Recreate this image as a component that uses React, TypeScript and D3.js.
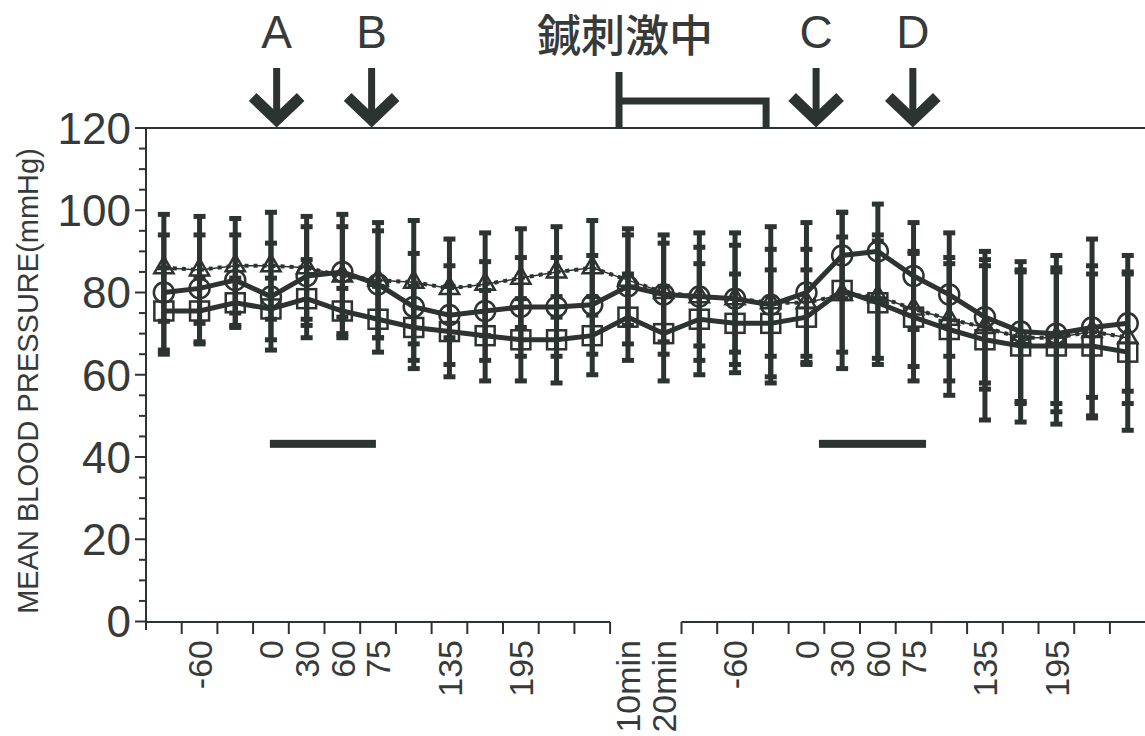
import React from "react";
import * as d3 from "d3";

// time points (one per column), blank = no label
const timeLabels = ["", "-60", "", "0", "30", "60", "75", "", "135", "", "195", "", "", "10min", "20min",
  "", "-60", "", "0", "30", "60", "75", "", "135", "", "195", "", ""];

const circleMean = [80, 81, 83, 79, 84, 85, 82, 76.5, 74.5, 75.5, 76.5, 76.5, 77, 81.5, 79.5, 79, 78.5, 77, 80, 89, 90, 84, 79.5, 74, 70.5, 70, 71.5, 72.5];
const circleSd = [14, 13, 11, 13, 12, 11, 13, 13, 12, 12, 12, 12, 12, 14, 14.5, 15.5, 16, 19, 17, 10.5, 11.5, 13, 15, 16, 17, 19, 21.5, 16.5];

const squareMean = [75.5, 75.5, 77.5, 76, 78.5, 75.5, 73.5, 71.5, 70.5, 69.5, 68.5, 68.5, 69.5, 74, 70, 73.5, 72.5, 72.5, 74, 80.5, 77.5, 74, 71, 68.5, 67, 67, 67, 65.5];
const squareSd = [10.5, 8, 6, 7.5, 9.5, 5.5, 8, 10, 11, 11, 10, 10.5, 9.5, 10.5, 11.5, 13.5, 12, 13, 11.5, 19, 15, 15.5, 16, 19.5, 18.5, 19, 17.5, 19];

const triangleMean = [86, 85.5, 86.5, 86.5, 86, 84, 83, 82.5, 81, 82, 83.5, 85, 86, 83, 80, 79, 78.5, 77.5, 77.5, 79.5, 79, 76, 73.5, 71.5, 69, 69, 70.5, 69];
const triangleSd = [13, 13, 11.5, 13, 12.5, 15, 14, 15, 12, 12.5, 12, 11, 11.5, 11, 12, 12, 13, 13, 13, 14, 15, 14, 15, 15, 16, 16, 16, 16];

const yTicks = [0, 20, 40, 60, 80, 100, 120];

// events (column position) and periods
const arrowLabels = ["A", "B", "C", "D"];
const arrowAt = [3.66, 6.32, 18.77, 21.48];
const stimLabel = "鍼刺激中";
const stimFrom = 13.25, stimTo = 17.37;
const periodFrom = [3.47, 18.85];
const periodTo = [6.44, 21.85];
const periodLevel = 43.2;

const INK = "#2d3330";
const TXT = "#363a38";
const FONT = "'Liberation Sans', Arial, sans-serif";

const App = () => {
  const n = timeLabels.length;
  const x = d3.scaleLinear().domain([0, n]).range([146, 1145.6]);
  const y = d3.scaleLinear().domain([0, 120]).range([621.5, 128]);
  const cx = (i: number) => x(i + 0.5);

  const series = [
    { key: "tri", mean: triangleMean, sd: triangleSd, marker: "triangle", dashed: true },
    { key: "sq", mean: squareMean, sd: squareSd, marker: "square", dashed: false },
    { key: "circ", mean: circleMean, sd: circleSd, marker: "circle", dashed: false },
  ];

  const line = d3.line<number>().x((d, i) => cx(i)).y(d => y(d));
  const tri = d3.symbol().type(d3.symbolTriangle).size(160)();

  const minorTicks = d3.range(0, 121, 5);
  const leftEnd = 13, rightStart = 15;
  const xTicks = d3.range(1, n).filter(k => k <= leftEnd || k >= rightStart);

  return (
    <svg width={1145} height={736} style={{ position: "absolute", left: 0, top: 0, background: "#fff" }}>
      {/* y axis title */}
      <text transform="translate(38,381) rotate(-90)" textAnchor="middle" fontFamily={FONT} fontSize={29} fill={TXT}>
        MEAN BLOOD PRESSURE(mmHg)
      </text>

      {/* y axis */}
      <line x1={146} x2={146} y1={128} y2={630} stroke={INK} strokeWidth={2} />
      {minorTicks.map(t => (
        <line key={t} x1={146 - (t % 20 === 0 ? 11 : 7)} x2={146} y1={y(t)} y2={y(t)} stroke={INK} strokeWidth={2} />
      ))}
      {yTicks.map(t => (
        <text key={t} x={131} y={y(t)} dy="0.36em" textAnchor="end" fontFamily={FONT} fontSize={44} fill={TXT}>{t}</text>
      ))}

      {/* top frame */}
      <line x1={146} x2={1145} y1={128} y2={128} stroke={INK} strokeWidth={2} />

      {/* broken x axis */}
      <line x1={146} x2={x(leftEnd)} y1={622} y2={622} stroke={INK} strokeWidth={2} />
      <line x1={x(rightStart)} x2={1145} y1={622} y2={622} stroke={INK} strokeWidth={2} />
      {xTicks.map(k => (
        <line key={k} x1={x(k)} x2={x(k)} y1={622} y2={634} stroke={INK} strokeWidth={2} />
      ))}
      {timeLabels.map((t, i) => t && (
        <text key={i} transform={`translate(${cx(i)},640) rotate(-90)`} dy="0.36em" textAnchor="end"
          fontFamily={FONT} fontSize={34} fill={TXT}>{t}</text>
      ))}

      {/* period bars */}
      {periodFrom.map((f, i) => (
        <rect key={i} x={x(f)} width={x(periodTo[i]) - x(f)} y={y(periodLevel) - 4} height={8} fill={INK} />
      ))}

      {/* stimulation bracket */}
      <path d={`M${x(stimFrom)},128V72M${x(stimFrom)},101H${x(stimTo)}V128`} fill="none" stroke={INK} strokeWidth={7} />
      <text x={625} y={52} textAnchor="middle" fontFamily="'Noto Sans CJK JP', sans-serif" fontWeight={500}
        fontSize={44} fill={TXT}>{stimLabel}</text>

      {/* event arrows */}
      {arrowAt.map((a, i) => {
        const ax = x(a);
        return (
          <g key={i}>
            <text x={ax} y={48} textAnchor="middle" fontFamily={FONT} fontSize={46} fill={TXT}>{arrowLabels[i]}</text>
            <line x1={ax} x2={ax} y1={68} y2={120} stroke={INK} strokeWidth={7} />
            <polyline points={`${ax - 24},97 ${ax},120 ${ax + 24},97`} fill="none" stroke={INK} strokeWidth={11}
              strokeLinejoin="miter" strokeMiterlimit={4} />
          </g>
        );
      })}

      {/* series lines */}
      {series.map(s => s.dashed ? (
        <g key={s.key}>
          <path d={line(s.mean) || ""} fill="none" stroke={INK} strokeWidth={1.5} />
          <path d={line(s.mean) || ""} fill="none" stroke={INK} strokeWidth={4} strokeDasharray="4 5" />
        </g>
      ) : (
        <path key={s.key} d={line(s.mean) || ""} fill="none" stroke={INK} strokeWidth={5} />
      ))}

      {/* error bars */}
      {series.map(s => (
        <g key={s.key}>
          {s.mean.map((m, i) => {
            const hi = y(m + s.sd[i]), lo = y(m - s.sd[i]);
            return (
              <g key={i}>
                <line x1={cx(i)} x2={cx(i)} y1={hi} y2={lo} stroke={INK} strokeWidth={5} />
                <rect x={cx(i) - 6} width={12} y={hi - 2.5} height={5} fill={INK} />
                <rect x={cx(i) - 6} width={12} y={lo - 2.5} height={5} fill={INK} />
              </g>
            );
          })}
        </g>
      ))}

      {/* markers */}
      {series.map(s => (
        <g key={s.key} fill="none" stroke={INK} strokeWidth={2.5}>
          {s.mean.map((m, i) => s.marker === "circle" ? (
            <circle key={i} cx={cx(i)} cy={y(m)} r={10} />
          ) : s.marker === "square" ? (
            <rect key={i} x={cx(i) - 9.5} y={y(m) - 9.5} width={19} height={19} />
          ) : (
            <path key={i} d={tri || ""} transform={`translate(${cx(i)},${y(m)})`} />
          ))}
        </g>
      ))}
    </svg>
  );
};

export default App;
